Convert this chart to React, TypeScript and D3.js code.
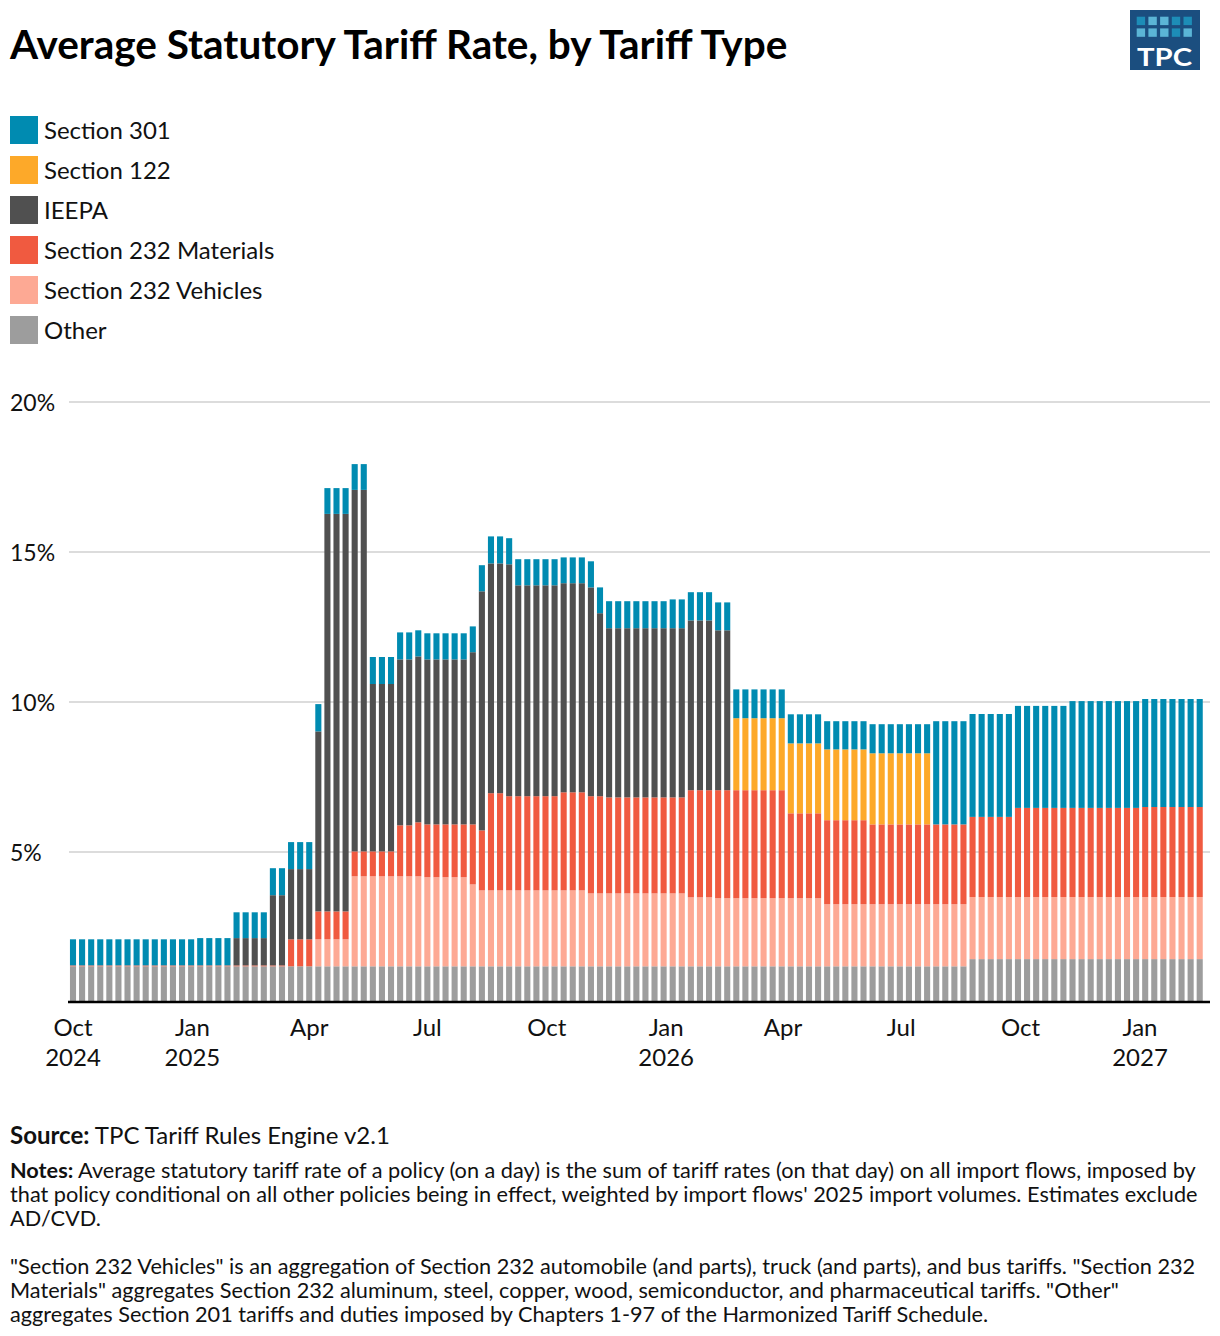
import React, { useEffect, useRef } from "react";
import * as d3 from "d3";

// Weekly observations, first week starting Tue 1 Oct 2024
const START_DATE = "2024-10-01";
const N_WEEKS = 125;

// Average statutory tariff rate (percentage points), one value per week
const other = [
  1.19, 1.19, 1.19, 1.19, 1.19, 1.19, 1.19, 1.19, 1.19, 1.19, // 0
  1.19, 1.19, 1.19, 1.19, 1.19, 1.19, 1.19, 1.19, 1.19, 1.19, // 10
  1.19, 1.19, 1.19, 1.19, 1.19, 1.19, 1.19, 1.19, 1.19, 1.19, // 20
  1.19, 1.19, 1.19, 1.19, 1.19, 1.19, 1.19, 1.19, 1.19, 1.19, // 30
  1.19, 1.19, 1.19, 1.19, 1.19, 1.19, 1.19, 1.19, 1.19, 1.19, // 40
  1.19, 1.19, 1.19, 1.19, 1.19, 1.19, 1.19, 1.19, 1.19, 1.19, // 50
  1.19, 1.19, 1.19, 1.19, 1.19, 1.19, 1.19, 1.19, 1.19, 1.19, // 60
  1.19, 1.19, 1.19, 1.19, 1.19, 1.19, 1.19, 1.19, 1.19, 1.19, // 70
  1.19, 1.19, 1.19, 1.19, 1.19, 1.19, 1.19, 1.19, 1.19, 1.19, // 80
  1.19, 1.19, 1.19, 1.19, 1.19, 1.19, 1.19, 1.19, 1.19, 1.43, // 90
  1.43, 1.43, 1.43, 1.43, 1.43, 1.43, 1.43, 1.43, 1.43, 1.43, // 100
  1.43, 1.43, 1.43, 1.43, 1.43, 1.43, 1.43, 1.43, 1.43, 1.43, // 110
  1.43, 1.43, 1.43, 1.43, 1.43, // 120
];

const vehicles = [
  0, 0, 0, 0, 0, 0, 0, 0, 0, 0, // 0
  0, 0, 0, 0, 0, 0, 0, 0, 0, 0, // 10
  0, 0, 0, 0, 0, 0, 0, 0.9, 0.9, 0.9, // 20
  0.9, 3.0, 3.0, 3.0, 3.0, 3.0, 3.0, 3.0, 3.0, 2.97, // 30
  2.97, 2.97, 2.97, 2.97, 2.73, 2.53, 2.53, 2.53, 2.53, 2.53, // 40
  2.53, 2.53, 2.53, 2.53, 2.53, 2.53, 2.53, 2.43, 2.43, 2.43, // 50
  2.43, 2.43, 2.43, 2.43, 2.43, 2.43, 2.43, 2.43, 2.3, 2.3, // 60
  2.3, 2.27, 2.27, 2.27, 2.27, 2.27, 2.27, 2.27, 2.27, 2.27, // 70
  2.27, 2.27, 2.27, 2.07, 2.07, 2.07, 2.07, 2.07, 2.07, 2.07, // 80
  2.07, 2.07, 2.07, 2.07, 2.07, 2.07, 2.07, 2.07, 2.07, 2.07, // 90
  2.07, 2.07, 2.07, 2.07, 2.07, 2.07, 2.07, 2.07, 2.07, 2.07, // 100
  2.07, 2.07, 2.07, 2.07, 2.07, 2.07, 2.07, 2.07, 2.07, 2.07, // 110
  2.07, 2.07, 2.07, 2.07, 2.07, // 120
];

const materials = [
  0.03, 0.03, 0.03, 0.03, 0.03, 0.03, 0.03, 0.03, 0.03, 0.03, // 0
  0.03, 0.03, 0.03, 0.03, 0.03, 0.03, 0.03, 0.03, 0.03, 0.03, // 10
  0.03, 0.03, 0.03, 0.03, 0.9, 0.9, 0.9, 0.93, 0.93, 0.93, // 20
  0.93, 0.83, 0.83, 0.83, 0.83, 0.83, 1.7, 1.7, 1.8, 1.76, // 30
  1.76, 1.76, 1.76, 1.76, 2.0, 2.0, 3.24, 3.24, 3.14, 3.14, // 40
  3.14, 3.14, 3.14, 3.14, 3.27, 3.27, 3.27, 3.24, 3.24, 3.2, // 50
  3.2, 3.2, 3.2, 3.2, 3.2, 3.2, 3.2, 3.2, 3.57, 3.57, // 60
  3.57, 3.6, 3.6, 3.6, 3.6, 3.6, 3.6, 3.6, 3.6, 2.83, // 70
  2.83, 2.83, 2.83, 2.8, 2.8, 2.8, 2.8, 2.8, 2.66, 2.66, // 80
  2.66, 2.66, 2.66, 2.66, 2.66, 2.66, 2.66, 2.66, 2.66, 2.67, // 90
  2.67, 2.67, 2.67, 2.67, 2.97, 2.97, 2.97, 2.97, 2.97, 2.97, // 100
  2.97, 2.97, 2.97, 2.97, 2.97, 2.97, 2.97, 2.97, 3.0, 3.0, // 110
  3.0, 3.0, 3.0, 3.0, 3.0, // 120
];

const ieepa = [
  0, 0, 0, 0, 0, 0, 0, 0, 0, 0, // 0
  0, 0, 0, 0, 0, 0, 0, 0, 0.91, 0.91, // 10
  0.91, 0.91, 2.34, 2.34, 2.34, 2.34, 2.34, 6.0, 13.25, 13.25, // 20
  13.25, 12.05, 12.05, 5.58, 5.58, 5.58, 5.53, 5.53, 5.53, 5.5, // 30
  5.5, 5.5, 5.5, 5.5, 5.74, 7.97, 7.66, 7.66, 7.73, 7.03, // 40
  7.03, 7.03, 7.03, 7.03, 6.97, 6.97, 6.97, 6.96, 6.1, 5.64, // 50
  5.64, 5.64, 5.64, 5.64, 5.64, 5.64, 5.64, 5.64, 5.66, 5.66, // 60
  5.66, 5.33, 5.33, 0, 0, 0, 0, 0, 0, 0, // 70
  0, 0, 0, 0, 0, 0, 0, 0, 0, 0, // 80
  0, 0, 0, 0, 0, 0, 0, 0, 0, 0, // 90
  0, 0, 0, 0, 0, 0, 0, 0, 0, 0, // 100
  0, 0, 0, 0, 0, 0, 0, 0, 0, 0, // 110
  0, 0, 0, 0, 0, // 120
];

const section122 = [
  0, 0, 0, 0, 0, 0, 0, 0, 0, 0, // 0
  0, 0, 0, 0, 0, 0, 0, 0, 0, 0, // 10
  0, 0, 0, 0, 0, 0, 0, 0, 0, 0, // 20
  0, 0, 0, 0, 0, 0, 0, 0, 0, 0, // 30
  0, 0, 0, 0, 0, 0, 0, 0, 0, 0, // 40
  0, 0, 0, 0, 0, 0, 0, 0, 0, 0, // 50
  0, 0, 0, 0, 0, 0, 0, 0, 0, 0, // 60
  0, 0, 0, 2.4, 2.4, 2.4, 2.4, 2.4, 2.4, 2.33, // 70
  2.33, 2.33, 2.33, 2.36, 2.36, 2.36, 2.36, 2.36, 2.37, 2.37, // 80
  2.37, 2.37, 2.37, 2.37, 2.37, 0, 0, 0, 0, 0, // 90
  0, 0, 0, 0, 0, 0, 0, 0, 0, 0, // 100
  0, 0, 0, 0, 0, 0, 0, 0, 0, 0, // 110
  0, 0, 0, 0, 0, // 120
];

const section301 = [
  0.87, 0.87, 0.87, 0.87, 0.87, 0.87, 0.87, 0.87, 0.87, 0.87, // 0
  0.87, 0.87, 0.87, 0.87, 0.91, 0.91, 0.91, 0.91, 0.86, 0.86, // 10
  0.86, 0.86, 0.9, 0.9, 0.9, 0.9, 0.9, 0.91, 0.86, 0.86, // 20
  0.86, 0.86, 0.86, 0.9, 0.9, 0.9, 0.9, 0.9, 0.87, 0.87, // 30
  0.87, 0.87, 0.87, 0.87, 0.86, 0.87, 0.9, 0.9, 0.87, 0.87, // 40
  0.87, 0.87, 0.87, 0.87, 0.86, 0.86, 0.86, 0.87, 0.86, 0.9, // 50
  0.9, 0.9, 0.9, 0.9, 0.9, 0.9, 0.96, 0.96, 0.94, 0.94, // 60
  0.94, 0.93, 0.93, 0.96, 0.96, 0.96, 0.96, 0.96, 0.96, 0.97, // 70
  0.97, 0.97, 0.97, 0.94, 0.94, 0.94, 0.94, 0.94, 0.97, 0.97, // 80
  0.97, 0.97, 0.97, 0.97, 0.97, 3.44, 3.44, 3.44, 3.44, 3.43, // 90
  3.43, 3.43, 3.43, 3.43, 3.4, 3.4, 3.4, 3.4, 3.4, 3.4, // 100
  3.56, 3.56, 3.56, 3.56, 3.56, 3.56, 3.56, 3.56, 3.6, 3.6, // 110
  3.6, 3.6, 3.6, 3.6, 3.6, // 120
];

// Stack order bottom -> top
const SERIES = [
  { key: "other", label: "Other", color: "#9d9d9d", values: other },
  { key: "vehicles", label: "Section 232 Vehicles", color: "#fda994", values: vehicles },
  { key: "materials", label: "Section 232 Materials", color: "#f05a40", values: materials },
  { key: "ieepa", label: "IEEPA", color: "#505050", values: ieepa },
  { key: "s122", label: "Section 122", color: "#fda929", values: section122 },
  { key: "s301", label: "Section 301", color: "#008bb1", values: section301 },
];

const Y_TICKS = [5, 10, 15, 20];
const X_TICK_DATES = [
  "2024-10-01", "2025-01-01", "2025-04-01", "2025-07-01", "2025-10-01",
  "2026-01-01", "2026-04-01", "2026-07-01", "2026-10-01", "2027-01-01",
];
const X_TICK_LABELS = [
  ["Oct", "2024"], ["Jan", "2025"], ["Apr"], ["Jul"], ["Oct"],
  ["Jan", "2026"], ["Apr"], ["Jul"], ["Oct"], ["Jan", "2027"],
];

const NOTES_1 = [
  "Average statutory tariff rate of a policy (on a day) is the sum of tariff rates (on that day) on all import flows, imposed by",
  "that policy conditional on all other policies being in effect, weighted by import flows' 2025 import volumes. Estimates exclude",
  "AD/CVD.",
];
const NOTES_2 = [
  "\"Section 232 Vehicles\" is an aggregation of Section 232 automobile (and parts), truck (and parts), and bus tariffs. \"Section 232",
  "Materials\" aggregates Section 232 aluminum, steel, copper, wood, semiconductor, and pharmaceutical tariffs. \"Other\"",
  "aggregates Section 201 tariffs and duties imposed by Chapters 1-97 of the Harmonized Tariff Schedule.",
];

const FONT = "Lato, 'Open Sans', sans-serif";

export default function App() {
  const svgRef = useRef<SVGSVGElement>(null);

  useEffect(() => {
    const width = 1220;
    const height = 1336;
    const svg = d3.select(svgRef.current);
    svg.selectAll("*").remove();
    svg.attr("width", width).attr("height", height);

    const parse = d3.timeParse("%Y-%m-%d");
    const start = parse(START_DATE)!;
    const dates = d3.range(N_WEEKS).map((i) => d3.timeDay.offset(start, 7 * i));

    const rows = dates.map((date, i) => {
      const r: any = { date };
      SERIES.forEach((s) => (r[s.key] = s.values[i]));
      return r;
    });

    const x = d3
      .scaleTime()
      .domain([parse("2024-10-01")!, parse("2027-01-01")!])
      .range([73, 1140]);
    const y = d3.scaleLinear().domain([0, 20]).range([1002, 402]);

    const plotLeft = 68;
    const plotRight = 1210;
    const pitch = x(dates[1]) - x(dates[0]);
    const bw = pitch * 0.67;

    // title
    svg
      .append("text")
      .attr("x", 10)
      .attr("y", 59)
      .attr("font-family", FONT)
      .attr("font-weight", 700)
      .attr("font-size", 40.5)
      .attr("fill", "#000")
      .text("Average Statutory Tariff Rate, by Tariff Type");

    // logo
    const logo = svg.append("g").attr("transform", "translate(1130,10)");
    logo.append("rect").attr("width", 70).attr("height", 60).attr("fill", "#1b4e7f");
    const sq = [
      ["#1d8db7", "#5bb5d6", "#5bb5d6", "#1d8db7", "#1d8db7"],
      ["#5bb5d6", "#5bb5d6", "#5bb5d6", "#1d8db7", "#5bb5d6"],
    ];
    sq.forEach((row, r) =>
      row.forEach((c, k) => {
        logo
          .append("rect")
          .attr("x", 6.7 + k * 11.7)
          .attr("y", 6.7 + r * 11.7)
          .attr("width", 8.4)
          .attr("height", 8.4)
          .attr("fill", c);
      })
    );
    logo
      .append("text")
      .attr("x", 7)
      .attr("y", 55.5)
      .attr("font-family", FONT)
      .attr("font-weight", 700)
      .attr("font-size", 24)
      .attr("fill", "#fff")
      .attr("textLength", 55)
      .attr("lengthAdjust", "spacingAndGlyphs")
      .text("TPC");

    // legend (top of stack first)
    const legend = svg.append("g");
    SERIES.slice()
      .reverse()
      .forEach((s, i) => {
        legend
          .append("rect")
          .attr("x", 10)
          .attr("y", 116 + i * 40)
          .attr("width", 28)
          .attr("height", 28)
          .attr("fill", s.color);
        legend
          .append("text")
          .attr("x", 44)
          .attr("y", 138.5 + i * 40)
          .attr("font-family", FONT)
          .attr("font-size", 24)
          .attr("fill", "#111")
          .text(s.label);
      });

    // grid + y labels
    const grid = svg.append("g");
    Y_TICKS.forEach((v) => {
      grid
        .append("line")
        .attr("x1", 69)
        .attr("x2", plotRight)
        .attr("y1", y(v))
        .attr("y2", y(v))
        .attr("stroke", "#dcdcdc")
        .attr("stroke-width", 2);
      grid
        .append("text")
        .attr("x", 10)
        .attr("y", y(v) + 8.5)
        .attr("font-family", FONT)
        .attr("font-size", 23)
        .attr("fill", "#111")
        .text(`${v}%`);
    });

    // stacked bars
    const stack = d3.stack<any>().keys(SERIES.map((s) => s.key));
    const layers = stack(rows);
    const bars = svg.append("g");
    layers.forEach((layer, li) => {
      bars
        .selectAll(null)
        .data(layer.filter((d) => d[1] - d[0] > 0))
        .enter()
        .append("rect")
        .attr("x", (d) => x(d.data.date) - bw / 2)
        .attr("y", (d) => y(d[1]))
        .attr("width", bw)
        .attr("height", (d) => y(d[0]) - y(d[1]))
        .attr("fill", SERIES[li].color);
    });

    // x axis line
    svg
      .append("line")
      .attr("x1", plotLeft)
      .attr("x2", plotRight)
      .attr("y1", 1002)
      .attr("y2", 1002)
      .attr("stroke", "#000")
      .attr("stroke-width", 2.5);

    // x tick labels
    const xl = svg.append("g");
    X_TICK_DATES.forEach((ds, i) => {
      const t = xl
        .append("text")
        .attr("x", x(parse(ds)!))
        .attr("y", 1036)
        .attr("text-anchor", "middle")
        .attr("font-family", FONT)
        .attr("font-size", 24)
        .attr("fill", "#111");
      X_TICK_LABELS[i].forEach((line, j) => {
        t.append("tspan")
          .attr("x", x(parse(ds)!))
          .attr("dy", j === 0 ? 0 : 30)
          .text(line);
      });
    });

    // source + notes
    const foot = svg
      .append("g")
      .attr("font-family", FONT)
      .attr("fill", "#111");
    const src = foot.append("text").attr("x", 10).attr("y", 1143.5).attr("font-size", 24);
    src.append("tspan").attr("font-weight", 700).text("Source:");
    src.append("tspan").text(" TPC Tariff Rules Engine v2.1");

    NOTES_1.forEach((line, i) => {
      const t = foot
        .append("text")
        .attr("x", 10)
        .attr("y", 1178 + i * 24)
        .attr("font-size", 21.7);
      if (i === 0) {
        t.append("tspan").attr("font-weight", 700).text("Notes:");
        t.append("tspan").text(" " + line);
      } else {
        t.text(line);
      }
    });
    NOTES_2.forEach((line, i) => {
      foot
        .append("text")
        .attr("x", 10)
        .attr("y", 1274 + i * 24)
        .attr("font-size", 21.7)
        .text(line);
    });
  }, []);

  return (
    <div style={{ position: "absolute", left: 0, top: 0, background: "#fff" }}>
      <svg ref={svgRef} style={{ display: "block" }} />
    </div>
  );
}
